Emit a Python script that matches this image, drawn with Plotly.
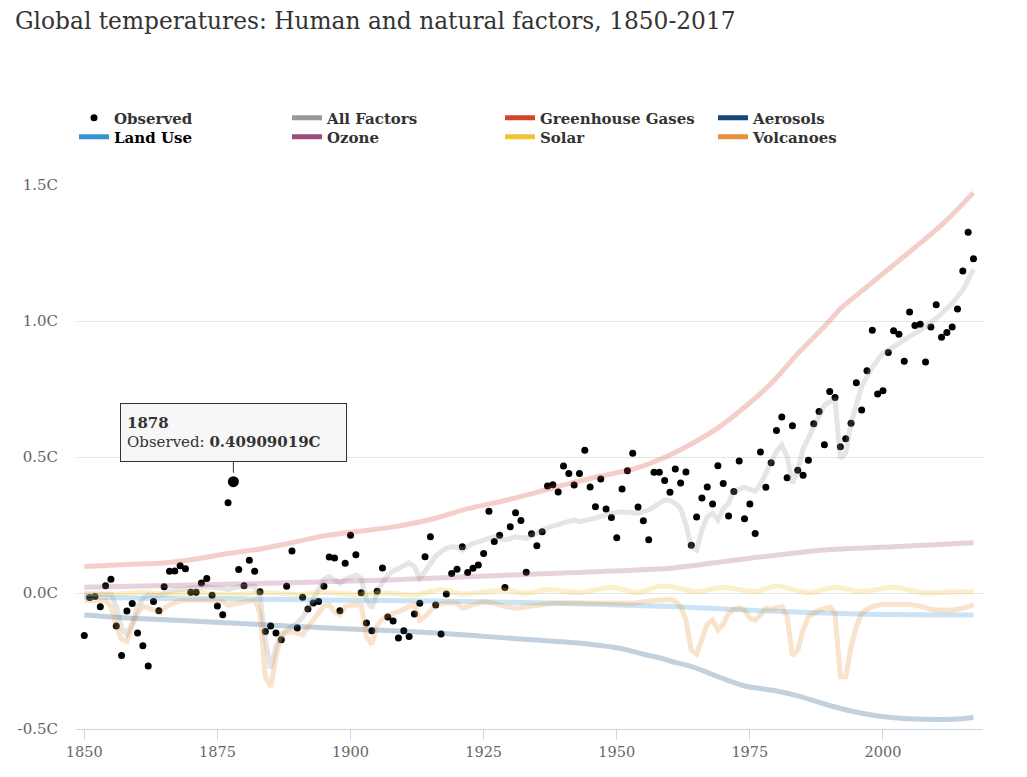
import plotly.graph_objects as go

years = list(range(1850, 2018))
observed = [
    -0.156, -0.017, -0.013, -0.051, 0.027, 0.051, -0.121, -0.230, -0.066, -0.039,
    -0.147, -0.194, -0.268, -0.031, -0.065, 0.023, 0.080, 0.081, 0.100, 0.089,
    0.003, 0.003, 0.037, 0.053, -0.008, -0.048, -0.080, 0.332, 0.40909019, 0.086,
    0.027, 0.120, 0.080, 0.005, -0.142, -0.121, -0.147, -0.172, 0.025, 0.154,
    -0.129, -0.016, -0.059, -0.037, -0.031, 0.025, 0.132, 0.129, -0.065, 0.109,
    0.212, 0.141, 0.001, -0.110, -0.139, 0.006, 0.092, -0.088, -0.103, -0.165,
    -0.139, -0.160, -0.077, -0.038, 0.133, 0.207, -0.044, -0.151, -0.004, 0.072,
    0.087, 0.170, 0.075, 0.091, 0.103, 0.145, 0.301, 0.189, 0.212, 0.020,
    0.244, 0.295, 0.267, 0.076, 0.218, 0.174, 0.225, 0.393, 0.398, 0.371,
    0.467, 0.439, 0.397, 0.439, 0.525, 0.390, 0.317, 0.419, 0.309, 0.278,
    0.203, 0.382, 0.449, 0.514, 0.316, 0.266, 0.196, 0.444, 0.444, 0.414,
    0.370, 0.456, 0.404, 0.445, 0.176, 0.279, 0.349, 0.390, 0.327, 0.468,
    0.403, 0.283, 0.373, 0.485, 0.273, 0.327, 0.219, 0.518, 0.389, 0.479,
    0.597, 0.647, 0.424, 0.615, 0.451, 0.433, 0.488, 0.622, 0.667, 0.545,
    0.741, 0.719, 0.538, 0.567, 0.624, 0.773, 0.673, 0.817, 0.966, 0.732,
    0.744, 0.884, 0.964, 0.951, 0.852, 1.033, 0.983, 0.988, 0.849, 0.978,
    1.060, 0.940, 0.958, 0.978, 1.044, 1.184, 1.326, 1.229,
]
assert len(observed) == len(years)

all_years = [1850, 1855, 1856, 1857, 1858, 1859, 1860, 1861, 1862, 1864, 1867, 1870, 1873, 1876, 1877,
             1879, 1882, 1883, 1884, 1885, 1886, 1887, 1888, 1889, 1890, 1891, 1892, 1893, 1894, 1895,
             1896, 1897, 1898, 1899, 1900, 1901, 1902, 1903, 1904, 1905, 1906, 1907, 1908, 1909, 1910,
             1911, 1912, 1913, 1914, 1915, 1916, 1917, 1918, 1919, 1920, 1921, 1922, 1923, 1924, 1925,
             1927, 1929, 1931, 1933, 1935, 1937, 1940, 1942, 1943, 1946, 1949, 1951, 1954, 1956, 1958,
             1959, 1960, 1961, 1962, 1963, 1964, 1965, 1966, 1967, 1968, 1969, 1970, 1971, 1972, 1974,
             1976, 1977, 1978, 1979, 1980, 1981, 1982, 1983, 1984, 1985, 1986, 1987, 1988, 1989, 1990,
             1991, 1992, 1993, 1994, 1995, 1996, 1997, 1998, 2000, 2003, 2005, 2008, 2010, 2013, 2015, 2017]
all_factors = [-0.004, -0.004, -0.05, -0.13, -0.151, -0.111, -0.05, -0.02, -0.007, -0.01, 0.011, 0.017, 0.023, 0.017, 0.012,
               0.023, 0.026, -0.013, -0.173, -0.277, -0.197, -0.15, -0.136, -0.125, -0.111, -0.09, -0.05, -0.02, 0.011, 0.05,
               0.06, 0.045, 0.035, 0.05, 0.06, 0.066, 0.054, -0.026, -0.056, 0.0, 0.04, 0.065, 0.08, 0.091, 0.1,
               0.111, 0.097, 0.054, 0.08, 0.109, 0.135, 0.152, 0.165, 0.17, 0.168, 0.158, 0.172, 0.183, 0.188, 0.195,
               0.207, 0.195, 0.207, 0.201, 0.219, 0.24, 0.258, 0.268, 0.262, 0.275, 0.293, 0.299, 0.293, 0.305, 0.33,
               0.342, 0.34, 0.33, 0.311, 0.25, 0.17, 0.158, 0.232, 0.28, 0.293, 0.268, 0.31, 0.33, 0.375, 0.388,
               0.375, 0.40, 0.44, 0.48, 0.52, 0.544, 0.501, 0.403, 0.452, 0.53, 0.57, 0.62, 0.66, 0.69, 0.703,
               0.71, 0.495, 0.514, 0.624, 0.70, 0.76, 0.795, 0.83, 0.881, 0.918, 0.94, 0.979, 1.01, 1.065, 1.114, 1.19]

ghg_years = [1850, 1858, 1864, 1870, 1877, 1883, 1889, 1895, 1902, 1908, 1916, 1922, 1929, 1935, 1941,
             1947, 1953, 1958, 1964, 1969, 1974, 1979, 1984, 1989, 1992, 1997, 2002, 2007, 2012, 2017]
ghg = [0.097, 0.105, 0.109, 0.122, 0.145, 0.162, 0.185, 0.21, 0.228, 0.243, 0.275, 0.31, 0.34, 0.37, 0.402,
       0.43, 0.455, 0.49, 0.548, 0.607, 0.683, 0.77, 0.88, 0.98, 1.045, 1.126, 1.206, 1.286, 1.371, 1.472]

aer_years = [1850, 1858, 1870, 1883, 1895, 1907, 1916, 1929, 1935, 1941, 1947, 1951, 1955, 1958, 1960,
             1964, 1970, 1974, 1980, 1984, 1989, 1994, 1999, 2005, 2011, 2015, 2017]
aerosols = [-0.081, -0.092, -0.103, -0.116, -0.128, -0.138, -0.147, -0.165, -0.173, -0.181, -0.193, -0.205, -0.225, -0.238, -0.25,
            -0.27, -0.315, -0.342, -0.36, -0.378, -0.408, -0.434, -0.452, -0.462, -0.465, -0.462, -0.457]

land_years = [1850, 1864, 1883, 1907, 1935, 1960, 1977, 1995, 2017]
land_use = [-0.016, -0.02, -0.023, -0.028, -0.036, -0.050, -0.065, -0.077, -0.081]

ozone_years = [1850, 1870, 1907, 1935, 1960, 1975, 1989, 2002, 2017]
ozone = [0.021, 0.029, 0.048, 0.07, 0.091, 0.128, 0.158, 0.17, 0.185]

solar_years = [1850, 1855, 1861, 1866, 1871, 1877, 1884, 1890, 1895, 1901, 1907, 1912, 1917, 1921, 1929,
               1933, 1937, 1943, 1949, 1954, 1958, 1960, 1965, 1970, 1976, 1980, 1986, 1991, 1996, 2002,
               2008, 2012, 2017]
solar = [-0.003, -0.006, 0.003, -0.006, 0.004, -0.008, 0.002, -0.006, 0.003, -0.006, 0.0, -0.008, 0.013, -0.004, 0.011,
         -0.001, 0.013, 0.002, 0.021, 0.002, 0.025, 0.024, 0.005, 0.02, 0.005, 0.026, 0.001, 0.021, 0.005, 0.021,
         -0.001, 0.004, 0.005]

volc_years = [1850, 1854, 1855, 1856, 1857, 1858, 1859, 1860, 1861, 1862, 1864, 1866, 1868, 1872, 1876,
              1877, 1879, 1882, 1883, 1884, 1885, 1886, 1887, 1888, 1889, 1890, 1891, 1892, 1893, 1894,
              1895, 1896, 1897, 1898, 1899, 1900, 1902, 1903, 1904, 1905, 1906, 1907, 1909, 1911, 1912,
              1913, 1914, 1916, 1918, 1920, 1921, 1923, 1925, 1927, 1929, 1931, 1933, 1935, 1938, 1941,
              1947, 1953, 1957, 1960, 1961, 1962, 1963, 1964, 1965, 1966, 1967, 1968, 1969, 1970, 1971,
              1972, 1973, 1974, 1975, 1976, 1977, 1978, 1979, 1980, 1981, 1982, 1983, 1984, 1985, 1986,
              1987, 1988, 1989, 1990, 1991, 1992, 1993, 1994, 1995, 1996, 1997, 1998, 2000, 2002, 2005,
              2007, 2009, 2011, 2012, 2013, 2015, 2016, 2017]
volcanoes = [-0.028, -0.028, -0.05, -0.12, -0.17, -0.178, -0.12, -0.075, -0.048, -0.056, -0.069, -0.044, -0.028, -0.025, -0.032,
             -0.045, -0.038, -0.026, -0.075, -0.308, -0.345, -0.234, -0.16, -0.145, -0.142, -0.148, -0.154, -0.125, -0.099, -0.07,
             -0.048, -0.044, -0.07, -0.081, -0.05, -0.044, -0.044, -0.16, -0.189, -0.12, -0.095, -0.081, -0.069, -0.05, -0.044,
             -0.099, -0.087, -0.044, -0.036, -0.038, -0.056, -0.044, -0.032, -0.038, -0.05, -0.056, -0.05, -0.044, -0.038, -0.036,
             -0.038, -0.038, -0.028, -0.024, -0.03, -0.05, -0.099, -0.21, -0.224, -0.173, -0.114, -0.099, -0.136, -0.114, -0.075,
             -0.06, -0.054, -0.063, -0.093, -0.099, -0.081, -0.056, -0.061, -0.055, -0.05, -0.087, -0.23, -0.21, -0.136, -0.087,
             -0.075, -0.063, -0.058, -0.053, -0.075, -0.308, -0.308, -0.197, -0.124, -0.075, -0.06, -0.05, -0.042, -0.041, -0.042,
             -0.048, -0.06, -0.063, -0.065, -0.063, -0.056, -0.052, -0.044]

y_tickvals = [-0.5, 0.0, 0.5, 1.0, 1.5]
y_ticktext = ["-0.5C", "0.0C", "0.5C", "1.0C", "1.5C"]
x_tickvals = [1850, 1875, 1900, 1925, 1950, 1975, 2000]

highlight_year = 1878

series = [
    ("All Factors", all_years, all_factors, "#999999", "linear"),
    ("Greenhouse Gases", ghg_years, ghg, "#d4432c", "spline"),
    ("Aerosols", aer_years, aerosols, "#14477a", "spline"),
    ("Land Use", land_years, land_use, "#3494d4", "spline"),
    ("Ozone", ozone_years, ozone, "#a04b7d", "spline"),
    ("Solar", solar_years, solar, "#f0c630", "spline"),
    ("Volcanoes", volc_years, volcanoes, "#e6913a", "linear"),
]

SERIF = "DejaVu Serif"
fig = go.Figure()

fig.add_trace(go.Scatter(
    x=years, y=observed, mode="markers", name="Observed", legend="legend",
    marker=dict(color="#000000", size=7), hoverinfo="skip"))

for i, (name, xs, ys, color, shape) in enumerate(series):
    label = "<span style='color:#000000'>%s</span>" % name if name == "Land Use" else name
    fig.add_trace(go.Scatter(x=[None], y=[None], mode="lines", name=label,
                             legend="legend" if i < 3 else "legend2",
                             line=dict(color=color, width=5)))

for name, xs, ys, color, shape in series:
    fig.add_trace(go.Scatter(x=xs, y=ys, mode="lines", showlegend=False, opacity=0.25,
                             line=dict(color=color, width=5, shape=shape, smoothing=0.6),
                             hoverinfo="skip"))

hi = years.index(highlight_year)
fig.add_trace(go.Scatter(x=[years[hi]], y=[observed[hi]], mode="markers", showlegend=False,
                         marker=dict(color="#000000", size=11), hoverinfo="skip"))

fig.add_annotation(
    x=years[hi], y=observed[hi], xref="x", yref="y",
    text="<b>%d</b><br>Observed: <b>%.8fC</b>" % (years[hi], observed[hi]),
    showarrow=True, ax=0, ay=-49, arrowhead=0, arrowwidth=1, arrowcolor="#333333", standoff=9,
    align="left", width=213, height=45, borderpad=6, borderwidth=1,
    bordercolor="#333333", bgcolor="#f7f7f7",
    font=dict(family=SERIF, size=15, color="#333333"))

legend_common = dict(orientation="h", xref="container", yref="container",
                     x=66 / 1027, xanchor="left", yanchor="middle",
                     entrywidth=168, entrywidthmode="pixels", itemwidth=30,
                     font=dict(family=SERIF, size=15, color="#333333", weight="bold"),
                     bgcolor="rgba(0,0,0,0)")

fig.update_layout(
    width=1027, height=777,
    paper_bgcolor="#ffffff", plot_bgcolor="#ffffff",
    margin=dict(l=68, r=52, t=177, b=56, autoexpand=False),
    title=dict(text="Global temperatures: Human and natural factors, 1850-2017",
               x=7 / 1027, xanchor="left", xref="container",
               y=1 - 13 / 777, yanchor="middle", yref="container",
               font=dict(family=SERIF, size=23.3, color="#333333")),
    showlegend=True,
    legend=dict(legend_common, y=1 - 110 / 777),
    legend2=dict(legend_common, y=1 - 129 / 777),
    xaxis=dict(range=[1848.44, 2018.79], tickvals=x_tickvals, showgrid=False, zeroline=False,
               showline=True, linecolor="#ccd6eb", linewidth=1, automargin=False,
               ticks="outside", ticklen=10, tickcolor="#ccd6eb",
               tickfont=dict(family=SERIF, size=14.5, color="#666666")),
    yaxis=dict(range=[-0.5, 1.5], tickvals=y_tickvals, ticktext=y_ticktext, automargin=False,
               showgrid=True, gridcolor="#e6e6e6", gridwidth=1, zeroline=False, showline=False,
               ticklabelstandoff=17,
               tickfont=dict(family=SERIF, size=15, color="#666666")),
)

fig.write_html("out.html")
